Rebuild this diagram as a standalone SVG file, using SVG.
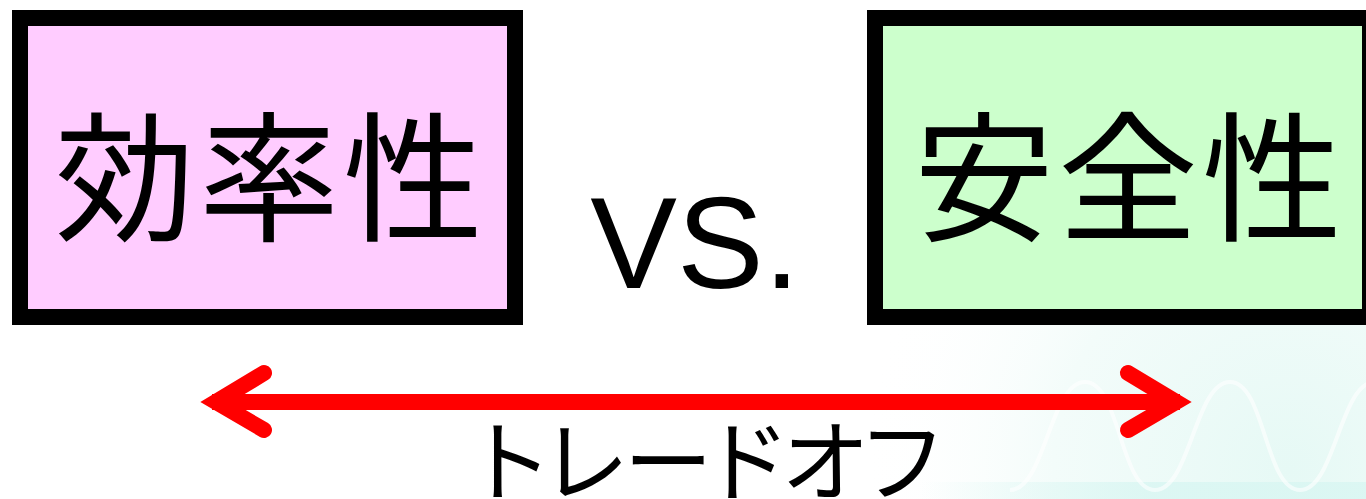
<svg xmlns="http://www.w3.org/2000/svg" width="1366" height="499" viewBox="0 0 1366 499">
  <style>
    .box { stroke: #000; stroke-width: 16; }
    .jp { font-family: "Noto Sans CJK JP", "Noto Sans CJK SC", sans-serif; fill: #000; }
    .big { font-size: 140px; letter-spacing: 4px; }
    .lat { font-family: "Liberation Sans", Arial, sans-serif; fill: #000; text-anchor: middle; }
    .arrow { fill: none; stroke: #FF0000; stroke-width: 16; }
  </style>
  <defs>
    <radialGradient id="bg" cx="1290" cy="470" r="430" gradientUnits="userSpaceOnUse">
      <stop offset="0" stop-color="#E6F9F5"/>
      <stop offset="0.55" stop-color="#F3FCFA"/>
      <stop offset="1" stop-color="#FFFFFF" stop-opacity="0"/>
    </radialGradient>
    <linearGradient id="band" x1="920" y1="0" x2="1150" y2="0" gradientUnits="userSpaceOnUse">
      <stop offset="0" stop-color="#D8F6F2" stop-opacity="0"/>
      <stop offset="1" stop-color="#D8F6F2" stop-opacity="0.8"/>
    </linearGradient>
  </defs>
  <rect x="0" y="0" width="1366" height="499" fill="#FFFFFF"/>
  <g id="background">
    <rect x="700" y="0" width="666" height="499" fill="url(#bg)"/>
    <rect x="920" y="482" width="446" height="17" fill="url(#band)"/>
    <path d="M1010,490 C1045,490 1050,382 1085,382 S1120,490 1155,490 S1195,382 1230,382 S1265,490 1300,490 S1340,382 1375,382" fill="none" stroke="#FFFFFF" stroke-width="4" opacity="0.6"/>
  </g>
  <g id="node-efficiency">
    <rect class="box" x="20" y="18" width="495" height="299" fill="#FFCCFF"/>
    <text class="jp big" x="55" y="230">効率性</text>
  </g>
  <g id="node-vs">
    <text class="lat" x="695" y="288" font-size="130">VS.</text>
  </g>
  <g id="node-safety">
    <rect class="box" x="875" y="18" width="495" height="299" fill="#CCFFCC"/>
    <text class="jp big" x="914" y="230">安全性</text>
  </g>
  <g id="connectors">
    <line class="arrow" x1="212" y1="402" x2="1180" y2="402"/>
    <polyline class="arrow" points="264,373 216,402 264,430" stroke-linecap="round" stroke-linejoin="miter"/>
    <polyline class="arrow" points="1128,373 1176,402 1128,430" stroke-linecap="round" stroke-linejoin="miter"/>
  </g>
  <g id="label-tradeoff">
    <text class="jp" x="708" y="494" font-size="89" text-anchor="middle" style="font-feature-settings: 'palt'">トレードオフ</text>
  </g>
</svg>
